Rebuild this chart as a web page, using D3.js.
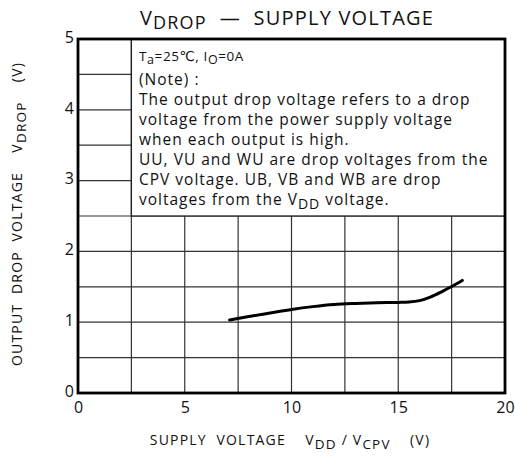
<!DOCTYPE html>
<html>
<head>
<meta charset="utf-8">
<script src="https://cdn.jsdelivr.net/npm/d3@7"></script>
<style>
  body { margin: 0; background: #fff; }
  text { font-family: "Open Sans", "DejaVu Sans", sans-serif; fill: #111; white-space: pre; }
</style>
</head>
<body>
<script>
// curve
const supplyV = [7.1, 8, 9, 10, 11, 12, 13, 14, 15, 15.5, 16, 16.5, 17, 17.5, 18];
const dropV = [1.03, 1.08, 1.13, 1.18, 1.22, 1.25, 1.265, 1.275, 1.28, 1.285, 1.305, 1.355, 1.425, 1.505, 1.59];
const xTicks = [0, 5, 10, 15, 20];
const yTicks = [0, 1, 2, 3, 4, 5];
const xGrid = [2.5, 5, 7.5, 10, 12.5, 15, 17.5];
const yGrid = [0.5, 1, 1.5, 2, 2.5, 3, 3.5, 4, 4.5];
const noteLines = [
  "(Note) :",
  "The output drop voltage refers to a drop",
  "voltage from the power supply voltage",
  "when each output is high.",
  "UU, VU and WU are drop voltages from the",
  "CPV voltage. UB, VB and WB are drop"
];

const W = 515, H = 456;
const mL = 78, mR = 505, mT = 39, mB = 393;

const svg = d3.select("body").append("svg")
  .attr("width", W)
  .attr("height", H);

const x = d3.scaleLinear().domain([0, 20]).range([mL, mR]);
const y = d3.scaleLinear().domain([0, 5]).range([mB, mT]);

// grid
svg.append("g").selectAll("line").data(xGrid).enter().append("line")
  .attr("x1", d => x(d)).attr("x2", d => x(d))
  .attr("y1", y(0)).attr("y2", y(5))
  .attr("stroke", "#333").attr("stroke-width", 1.2);
svg.append("g").selectAll("line").data(yGrid).enter().append("line")
  .attr("x1", x(0)).attr("x2", x(20))
  .attr("y1", d => y(d)).attr("y2", d => y(d))
  .attr("stroke", "#333").attr("stroke-width", 1.2);

// note box covers the grid top right
svg.append("rect")
  .attr("x", x(2.5)).attr("y", y(5))
  .attr("width", x(20) - x(2.5)).attr("height", y(2.5) - y(5))
  .attr("fill", "#fff").attr("stroke", "#222").attr("stroke-width", 1.3);

// frame
svg.append("rect")
  .attr("x", mL).attr("y", mT)
  .attr("width", mR - mL).attr("height", mB - mT)
  .attr("fill", "none").attr("stroke", "#000").attr("stroke-width", 2.8);

// axes (labels only)
const xAxis = svg.append("g")
  .attr("transform", `translate(0,${mB})`)
  .call(d3.axisBottom(x).tickValues(xTicks).tickFormat(d3.format("d")).tickSize(0).tickPadding(9));
const yAxis = svg.append("g")
  .attr("transform", `translate(${mL},0)`)
  .call(d3.axisLeft(y).tickValues(yTicks).tickFormat(d3.format("d")).tickSize(0).tickPadding(4));
[xAxis, yAxis].forEach(a => {
  a.select(".domain").remove();
  a.selectAll("text").attr("font-size", 16).style("font-family", "\"Open Sans\", sans-serif").attr("fill", "#111");
});
yAxis.selectAll("text").attr("dy", "0.2em");

// curve
const line = d3.line()
  .x(d => x(d[0]))
  .y(d => y(d[1]))
  .curve(d3.curveMonotoneX);
svg.append("path")
  .datum(d3.zip(supplyV, dropV))
  .attr("d", line)
  .attr("fill", "none")
  .attr("stroke", "#000")
  .attr("stroke-width", 3)
  .attr("stroke-linecap", "round");

// title
const title = svg.append("text")
  .attr("x", 287).attr("y", 25)
  .attr("text-anchor", "middle")
  .attr("font-size", 20)
  .attr("letter-spacing", 1.2);
title.append("tspan").text("V");
title.append("tspan").attr("dy", 4).attr("font-size", 18).text("DROP");
title.append("tspan").attr("dy", -4).text("  \u2014  SUPPLY VOLTAGE");

// note text
const nx = 139;
const cond = svg.append("text").attr("x", nx).attr("y", 61).attr("font-size", 13.5).attr("letter-spacing", 0.6);
cond.append("tspan").text("T");
cond.append("tspan").attr("dy", 3).attr("font-size", 12.5).text("a");
cond.append("tspan").attr("dy", -3).text("=25\u2103, I");
cond.append("tspan").attr("dy", 3).attr("font-size", 12.5).text("O");
cond.append("tspan").attr("dy", -3).text("=0A");

svg.append("g").selectAll("text").data(noteLines).enter().append("text")
  .attr("x", nx)
  .attr("y", (d, i) => 85 + i * 20)
  .attr("font-size", 15.5)
  .attr("letter-spacing", 1)
  .text(d => d);

const last = svg.append("text").attr("x", nx).attr("y", 205).attr("font-size", 15.5).attr("letter-spacing", 1);
last.append("tspan").text("voltages from the V");
last.append("tspan").attr("dy", 4).attr("font-size", 14).text("DD");
last.append("tspan").attr("dy", -4).text(" voltage.");

// x axis title
const xt = svg.append("text")
  .attr("x", 290).attr("y", 445)
  .attr("text-anchor", "middle")
  .attr("font-size", 14)
  .attr("letter-spacing", 1.2);
xt.append("tspan").text("SUPPLY  VOLTAGE    V");
xt.append("tspan").attr("dy", 4).attr("font-size", 13.5).text("DD");
xt.append("tspan").attr("dy", -4).text(" / V");
xt.append("tspan").attr("dy", 4).attr("font-size", 13.5).text("CPV");
xt.append("tspan").attr("dy", -4).text("    (V)");

// y axis title
const yt = svg.append("text")
  .attr("transform", `translate(22,${(mT + mB) / 2 - 2}) rotate(-90)`)
  .attr("text-anchor", "middle")
  .attr("font-size", 14)
  .attr("letter-spacing", 1.2);
yt.append("tspan").text("OUTPUT  DROP  VOLTAGE    V");
yt.append("tspan").attr("dy", 4).attr("font-size", 13.5).text("DROP");
yt.append("tspan").attr("dy", -4).text("    (V)");
</script>
</body>
</html>
